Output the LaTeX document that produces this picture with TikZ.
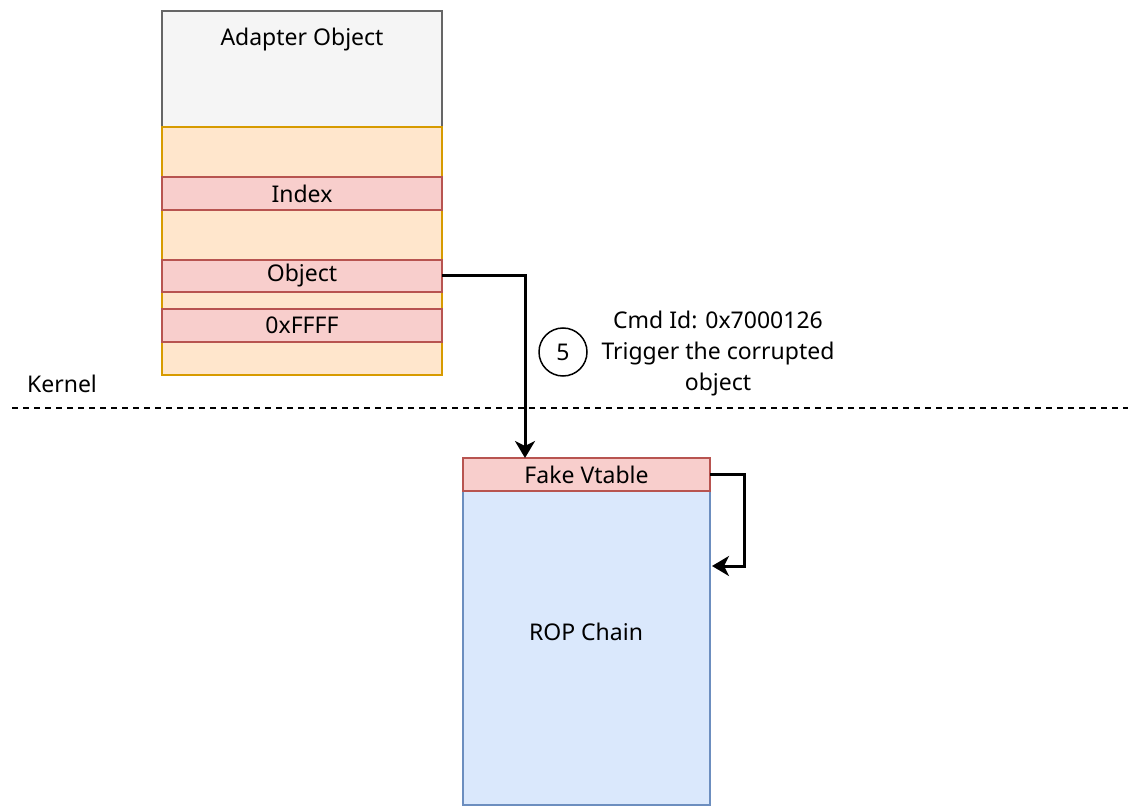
\documentclass[tikz,border=0pt]{standalone}
\usepackage{fontspec}
\setmainfont{Noto Sans}
\usetikzlibrary{arrows.meta}
\definecolor{grayfill}{HTML}{F5F5F5}
\definecolor{graydraw}{HTML}{666666}
\definecolor{orfill}{HTML}{FFE6CC}
\definecolor{ordraw}{HTML}{D79B00}
\definecolor{redfill}{HTML}{F8CECC}
\definecolor{reddraw}{HTML}{B85450}
\definecolor{bluefill}{HTML}{DAE8FC}
\definecolor{bluedraw}{HTML}{6C8EBF}
\tikzset{
  box/.style={draw, line width=1.5pt, inner sep=0pt, outer sep=0pt},
  txt/.style={font=\fontsize{23}{31}\selectfont, text=black},
  conn/.style={line width=3pt, -{Stealth[length=17pt,width=20pt,inset=5pt]}},
}
\begin{document}
\begin{tikzpicture}[x=1pt,y=-1pt]
\useasboundingbox (0,0) rectangle (1132,810);
% adapter object
\node[box, fill=grayfill, draw=graydraw, minimum width=280pt, minimum height=116pt, anchor=north west] (adapter) at (162,11) {};
\node[txt, anchor=base] (adaptert) at (302,46) {Adapter Object};
\node[box, fill=orfill, draw=ordraw, minimum width=280pt, minimum height=248pt, anchor=north west] (body) at (162,127) {};
\node[box, fill=redfill, draw=reddraw, minimum width=280pt, minimum height=33pt, anchor=north west, txt] (index) at (162,177) {Index};
\node[box, fill=redfill, draw=reddraw, minimum width=280pt, minimum height=32pt, anchor=north west, txt] (object) at (162,260) {Object};
\node[box, fill=redfill, draw=reddraw, minimum width=280pt, minimum height=33pt, anchor=north west, txt] (ffff) at (162,309) {0xFFFF};
% kernel line
\coordinate (dl) at (12,408);
\coordinate (dr) at (1128,408);
\draw[line width=1.5pt, dash pattern=on 6pt off 5pt] (dl) -- (dr);
\node[txt, anchor=base] (kernel) at (62,392) {Kernel};
% rop chain
\node[box, fill=bluefill, draw=bluedraw, minimum width=247pt, minimum height=314pt, anchor=north west] (rop) at (463,491) {};
\node[txt] (ropt) at (586,632) {ROP Chain};
\node[box, fill=redfill, draw=reddraw, minimum width=247pt, minimum height=33pt, anchor=north west, txt] (vtable) at (463,458) {Fake Vtable};
% connectors
\draw[conn] (object.east) -| (vtable.north -| 525,0);
\coordinate (selfin) at (712,566);
\draw[conn] (vtable.east) -- ++(34,0) |- (selfin);
% step 5
\node[draw, circle, line width=1.5pt, minimum size=48pt, inner sep=0pt, txt] (five) at (563,352) {5};
\node[txt, align=center] (lbl) at (718,354) {Cmd Id: 0x7000126\\Trigger the corrupted\\object};
\end{tikzpicture}
\end{document}
